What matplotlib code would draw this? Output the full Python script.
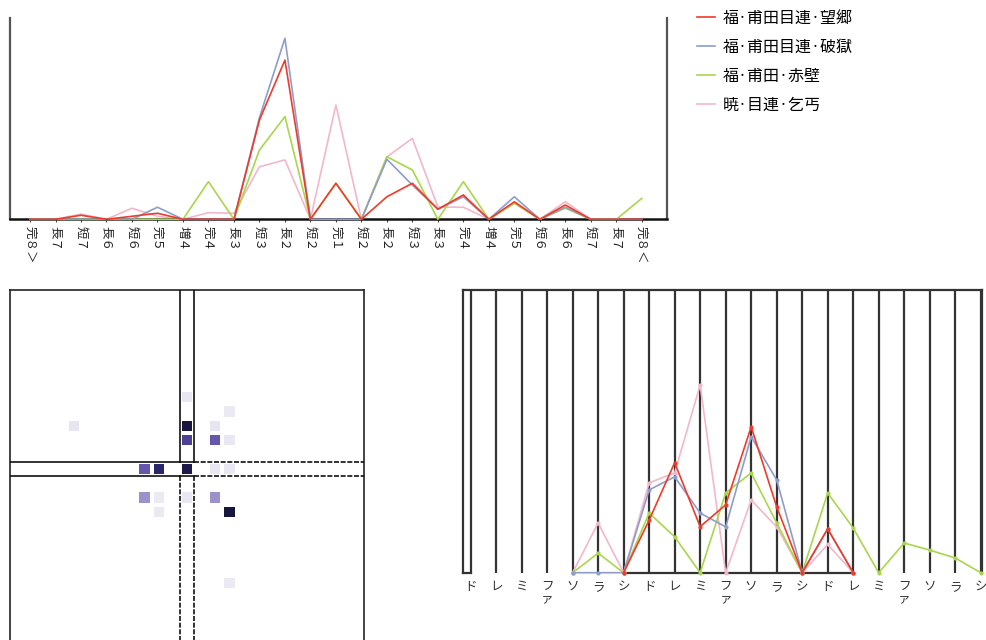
import numpy as np
import matplotlib
matplotlib.use("Agg")
import matplotlib.pyplot as plt
from matplotlib.colors import LinearSegmentedColormap

plt.rcParams['font.family'] = ['Noto Sans CJK JP', 'DejaVu Sans']

# ---------------- data ----------------
intervals = ['完８＞', '長７', '短７', '長６', '短６', '完５', '増４', '完４', '長３', '短３', '長２', '短２',
             '完１', '短２', '長２', '短３', '長３', '完４', '増４', '完５', '短６', '長６', '短７', '長７', '完８＜']

series_names = ['福·甫田目連·望郷', '福·甫田目連·破獄', '福·甫田·赤壁', '暁·目連·乞丐']
series_colors = ['#ee3b2b', '#8e9dc9', '#a9d64c', '#f3b7cb']

iv_wangxiang = [0, 0, 2.0, 0, 1.5, 3.0, 0, 0, 0, 49.3, 79.1, 0, 17.9, 0, 11.2, 17.9, 5.0, 12.1, 0, 8.7, 0, 7.1, 0, 0, 0]
iv_poyu      = [0, 0, 0, 0, 0, 6.0, 0, 0, 0, 50.5, 89.9, 0, 0, 0, 29.8, 17.0, 5.0, 11.2, 0, 11.2, 0, 6.0, 0, 0, 0]
iv_chibi     = [0, 0, 0, 0, 0, 0, 0, 18.7, 0, 34.4, 51.0, 0, 17.9, 0, 31.1, 24.5, 0, 18.7, 0, 8.0, 0, 5.5, 0, 0, 10.4]
iv_qigai     = [0, 0, 2.6, 0, 5.5, 1.5, 0, 3.3, 3.0, 26.1, 29.5, 0, 56.8, 0, 31.0, 40.2, 6.1, 6.0, 0, 8.0, 0, 8.7, 0, 0, 0]

notes = ['ド', 'レ', 'ミ', 'フ\nァ', 'ソ', 'ラ', 'シ'] * 3
nan = np.nan
nt_wangxiang = [nan] * 6 + [0, 18.6, 38.9, 16.3, 24.0, 51.6, 23.3, 0, 15.5, 0] + [nan] * 5
nt_poyu      = [nan] * 4 + [0, 0, 0, 29.3, 33.9, 21.1, 16.2, 48.1, 32.8, 0, 15.5, 0] + [nan] * 5
nt_chibi     = [nan] * 4 + [0, 6.9, 0, 21.1, 12.7, 0, 28.2, 35.3, 17.6, 0, 28.2, 15.8, 0, 10.5, 8.0, 5.2, 0]
nt_qigai     = [nan] * 4 + [0, 17.6, 0, 31.8, 35.3, 66.4, 0, 25.7, 16.2, 0, 10.0, 0] + [nan] * 5

# transition matrix (row = previous interval, col = next interval)
heat_rows = [9, 10, 12, 12, 12, 10, 14, 14, 15, 9, 8, 10, 12, 12, 14, 15, 14, 7, 20, 9]
heat_cols = [12, 12, 12, 10, 9, 14, 9, 14, 15, 14, 15, 15, 14, 15, 10, 10, 12, 12, 15, 4]
heat_vals = [1.0, 0.72, 0.97, 0.88, 0.62, 0.62, 0.42, 0.42, 1.0, 0.12, 0.08, 0.10, 0.10, 0.10,
             0.08, 0.08, 0.10, 0.10, 0.08, 0.12]

iv_series = [iv_wangxiang, iv_poyu, iv_chibi, iv_qigai]
nt_series = [nt_wangxiang, nt_poyu, nt_chibi, nt_qigai]
zorders = [5, 4, 3, 2]

W, H = 987, 640
fig = plt.figure(figsize=(W / 100, H / 100), dpi=100)

# ---------------- top: interval distribution ----------------
ax1 = fig.add_axes([10 / W, 1 - 219.3 / H, (667.3 - 10) / W, (219.3 - 18) / H])
x = np.arange(len(intervals))
for name, vals, col, z in zip(series_names, iv_series, series_colors, zorders):
    ax1.plot(x, vals, color=col, lw=1.2, label=name, zorder=z, clip_on=False)
ax1.set_xlim(-0.785, len(intervals))
ax1.set_ylim(0, 100)
ax1.set_xticks(x)
ax1.set_xticklabels(intervals, rotation=-90, fontsize=9, color='#222')
ax1.tick_params(axis='x', length=2, pad=3, color='#444')
ax1.set_yticks([])
ax1.spines['top'].set_visible(False)
ax1.spines['left'].set_color('#555')
ax1.spines['left'].set_linewidth(1.6)
ax1.spines['right'].set_color('#555')
ax1.spines['right'].set_linewidth(1.6)
ax1.spines['bottom'].set_color('#111')
ax1.spines['bottom'].set_linewidth(1.8)

fig.legend(loc='upper left', bbox_to_anchor=(697 / W, 1 - 10 / H), frameon=False,
           fontsize=11.5, handlelength=1.1, handletextpad=0.5, labelspacing=0.75,
           borderpad=0, borderaxespad=0)

# ---------------- bottom left: transition matrix ----------------
n = len(intervals)
mat = np.full((n, n), np.nan)
for r, c, v in zip(heat_rows, heat_cols, heat_vals):
    mat[r, c] = v
cmap = LinearSegmentedColormap.from_list(
    'pur', [(0, '#f3f2f7'), (0.15, '#e4e1ee'), (0.45, '#9488c6'), (0.65, '#5e4ea8'),
            (0.85, '#2e2a78'), (1, '#17163f')])
ax2 = fig.add_axes([10 / W, 1 - 647.5 / H, 354 / W, 357.5 / H])
ax2.pcolormesh(np.arange(n + 1), np.arange(n + 1), np.ma.masked_invalid(mat), cmap=cmap,
               vmin=0, vmax=1, edgecolors='white', linewidth=1.6, zorder=2)
ax2.set_xlim(0, n)
ax2.set_ylim(n, 0)
ax2.set_xticks([])
ax2.set_yticks([])
for s in ax2.spines.values():
    s.set_color('#222')
    s.set_linewidth(1.2)
ci = intervals.index('完１')
for b in (ci, ci + 1):
    ax2.plot([b, b], [0, ci], color='#111', lw=1.2, zorder=3)
    ax2.plot([b, b], [ci + 1, n], color='#111', lw=1.2, ls=(0, (3, 1)), zorder=3)
    ax2.plot([0, ci], [b, b], color='#111', lw=1.2, zorder=3)
    ax2.plot([ci + 1, n], [b, b], color='#111', lw=1.2, ls=(0, (3, 1)), zorder=3)
ax2.plot([ci, ci + 1], [ci, ci], color='#111', lw=1.2, zorder=3)
ax2.plot([ci, ci + 1], [ci + 1, ci + 1], color='#111', lw=1.2, zorder=3)

# ---------------- bottom right: pitch profile ----------------
ax3 = fig.add_axes([462.7 / W, 1 - 572.7 / H, (982 - 462.7) / W, (572.7 - 290) / H])
xn = np.arange(len(notes))
left_lim = -0.31
ax3.set_xlim(left_lim, len(notes) - 1 + 0.05)
ax3.set_ylim(0, 100)
for xi in xn:
    ax3.axvline(xi, color='#333', lw=1.6, zorder=1)
for name, vals, col, z in zip(series_names, nt_series, series_colors, zorders):
    ax3.plot(xn, vals, color=col, lw=1.2, zorder=z + 2, marker='o', ms=2, clip_on=False)
red_idx = np.where(~np.isnan(np.array(nt_wangxiang)))[0]
ax3.plot([red_idx[0], red_idx[-1]], [0, 0], color='#333', lw=1.6, zorder=2, clip_on=False)
ax3.plot([left_lim, 0], [0, 0], color='#333', lw=1.6, zorder=2, clip_on=False)
ax3.spines['bottom'].set_visible(False)
for k in ('left', 'top', 'right'):
    ax3.spines[k].set_color('#333')
    ax3.spines[k].set_linewidth(1.6)
ax3.set_xticks(xn)
ax3.set_xticklabels(notes, fontsize=9, color='#333', linespacing=1.0, va='top')
ax3.tick_params(axis='x', length=0, pad=5)
ax3.set_yticks([])

fig.savefig('out.png', dpi=100, facecolor='white')
